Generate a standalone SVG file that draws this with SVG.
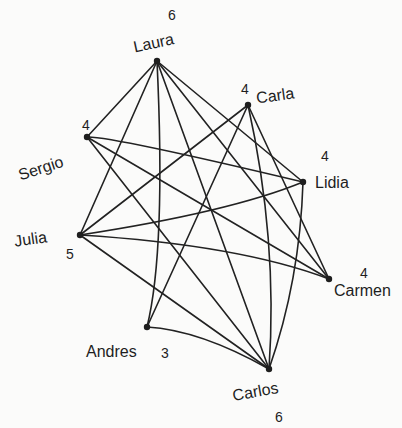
<svg xmlns="http://www.w3.org/2000/svg" width="402" height="428" viewBox="0 0 402 428">
<style>
.edge{fill:none;stroke:#222;stroke-width:1.6;stroke-linecap:round}
.dot{fill:#1e1e1e}
.lbl{font-family:"Liberation Sans","DejaVu Sans",sans-serif;font-size:16px;fill:#1e1e1e}
.num{font-family:"Liberation Sans","DejaVu Sans",sans-serif;font-size:14px;fill:#1e1e1e}
</style>
<rect width="402" height="428" fill="#fbfbfa"/>
<g id="connectors">
<path class="edge" d="M157,61 L87,137"/>
<path class="edge" d="M157,61 L80,235"/>
<path class="edge" d="M157,61 Q166,250 147,327"/>
<path class="edge" d="M157,61 L269,369"/>
<path class="edge" d="M157,61 L329,279"/>
<path class="edge" d="M157,61 L303,182"/>
<path class="edge" d="M248,105 L80,235"/>
<path class="edge" d="M248,105 L147,327"/>
<path class="edge" d="M248,105 Q278,240 269,369"/>
<path class="edge" d="M248,105 L329,279"/>
<path class="edge" d="M87,137 Q110,136 303,182"/>
<path class="edge" d="M87,137 L329,279"/>
<path class="edge" d="M87,137 L269,369"/>
<path class="edge" d="M80,235 Q230,212 303,182"/>
<path class="edge" d="M80,235 Q240,245 329,279"/>
<path class="edge" d="M80,235 L269,369"/>
<path class="edge" d="M147,327 Q200,330 269,369"/>
<path class="edge" d="M303,182 Q300,280 269,369"/>
</g>
<g id="laura"><circle class="dot" cx="157" cy="61" r="3.2"/><text class="lbl" x="133" y="48" transform="rotate(-12 155 42)">Laura</text><text class="num" x="168" y="20">6</text></g>
<g id="carla"><circle class="dot" cx="248" cy="105" r="3.2"/><text class="num" x="241" y="94">4</text><text class="lbl" x="256" y="101" transform="rotate(-8 275 95)">Carla</text></g>
<g id="sergio"><circle class="dot" cx="87" cy="137" r="3.2"/><text class="num" x="82" y="130">4</text><text class="lbl" x="16" y="172" transform="rotate(-18 45 162)">Sergio</text></g>
<g id="lidia"><circle class="dot" cx="303" cy="182" r="3.2"/><text class="num" x="321" y="161">4</text><text class="lbl" x="315" y="188">Lidia</text></g>
<g id="julia"><circle class="dot" cx="80" cy="235" r="3.2"/><text class="lbl" x="14" y="244" transform="rotate(-8 34 238)">Julia</text><text class="num" x="66" y="259">5</text></g>
<g id="carmen"><circle class="dot" cx="329" cy="279" r="3.2"/><text class="num" x="360" y="278">4</text><text class="lbl" x="334" y="296">Carmen</text></g>
<g id="andres"><circle class="dot" cx="147" cy="327" r="3.2"/><text class="lbl" x="86" y="357">Andres</text><text class="num" x="161" y="358">3</text></g>
<g id="carlos"><circle class="dot" cx="269" cy="369" r="3.2"/><text class="lbl" x="232" y="397" transform="rotate(-10 255 390)">Carlos</text><text class="num" x="275" y="422">6</text></g>
</svg>
